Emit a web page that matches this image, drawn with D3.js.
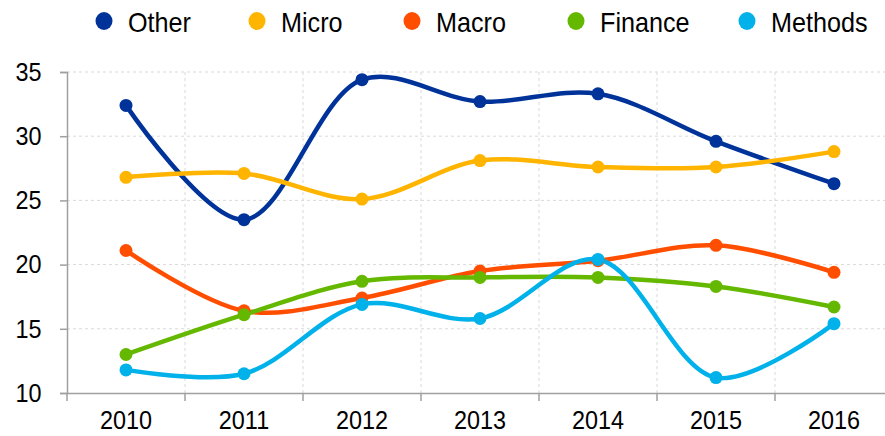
<!DOCTYPE html>
<html>
<head>
<meta charset="utf-8">
<script src="https://cdn.jsdelivr.net/npm/d3@7"></script>
<style>
  body { margin: 0; background: #fff; }
  svg { display: block; font-family: "Liberation Sans", Arial, sans-serif; }
  .narrow { transform-box: fill-box; transform-origin: center; transform: scaleX(0.9); }
</style>
</head>
<body>
<svg id="chart" width="885" height="436"></svg>
<script>
const years = ["2010", "2011", "2012", "2013", "2014", "2015", "2016"];
const seriesNames = ["Other", "Micro", "Macro", "Finance", "Methods"];
const other = [32.4, 23.5, 34.4, 32.7, 33.3, 29.6, 26.3];
const micro = [26.8, 27.1, 25.1, 28.1, 27.6, 27.6, 28.8];
const macro = [21.1, 16.4, 17.4, 19.5, 20.3, 21.5, 19.4];
const finance = [13.0, 16.1, 18.7, 19.0, 19.0, 18.3, 16.7];
const methods = [11.8, 11.5, 16.9, 15.8, 20.4, 11.2, 15.4];
const yTicks = [10, 15, 20, 25, 30, 35];
const colors = ["#003399", "#ffb400", "#ff4e00", "#65b800", "#00b1ea"];

const allSeries = [other, micro, macro, finance, methods];

let svg = d3.select("#chart");
let margin = { top: 72, bottom: 43, left: 67, right: -8 };
let width = 885 - margin.left - margin.right;
let height = 436 - margin.top - margin.bottom;

let g = svg.append("g").attr("transform", `translate(${margin.left},${margin.top})`);

let x = d3.scaleBand().domain(years).range([0, width]);
let y = d3.scaleLinear().domain([10, 35]).range([height, 0]);

// grid
g.append("g")
  .selectAll("line")
  .data(yTicks.slice(1))
  .enter()
  .append("line")
  .attr("x1", 0)
  .attr("x2", width)
  .attr("y1", (d) => y(d))
  .attr("y2", (d) => y(d))
  .attr("stroke", "#d9d9d9")
  .attr("stroke-dasharray", "3,3");

g.append("g")
  .selectAll("line")
  .data(years.slice(1))
  .enter()
  .append("line")
  .attr("x1", (d) => x(d))
  .attr("x2", (d) => x(d))
  .attr("y1", 0)
  .attr("y2", height)
  .attr("stroke", "#d9d9d9")
  .attr("stroke-dasharray", "3,3");

// axes
let yAxis = g.append("g").call(d3.axisLeft(y).tickValues(yTicks).tickSize(7).tickPadding(17));
let xAxis = g.append("g")
  .attr("transform", `translate(0,${height})`)
  .call(d3.axisBottom(x).tickSize(0).tickPadding(18));

xAxis.selectAll(".sep")
  .data(years)
  .enter()
  .append("line")
  .attr("x1", (d) => x(d))
  .attr("x2", (d) => x(d))
  .attr("y1", 0)
  .attr("y2", 8)
  .attr("stroke", "#a0a0a0")
  .attr("stroke-width", 1.5);

[yAxis, xAxis].forEach((a) => {
  a.select(".domain").attr("stroke", "#a0a0a0").attr("stroke-width", 1.5);
  a.selectAll(".tick line").attr("stroke", "#a0a0a0").attr("stroke-width", 1.5);
  a.selectAll("text")
    .attr("fill", "#000")
    .attr("class", "narrow")
    .style("font-size", "26px");
});

// lines
let line = d3.line()
  .x((d, i) => x(years[i]) + x.bandwidth() / 2)
  .y((d) => y(d))
  .curve(d3.curveCatmullRom.alpha(0.5));

allSeries.forEach((s, k) => {
  g.append("path")
    .datum(s)
    .attr("d", line)
    .attr("fill", "none")
    .attr("stroke", colors[k])
    .attr("stroke-width", 4.5);
});

allSeries.forEach((s, k) => {
  g.append("g")
    .selectAll("circle")
    .data(s)
    .enter()
    .append("circle")
    .attr("cx", (d, i) => x(years[i]) + x.bandwidth() / 2)
    .attr("cy", (d) => y(d))
    .attr("r", 6.5)
    .attr("fill", colors[k]);
});

// legend
const legendX = [104, 257, 412, 576, 747];
let legend = svg.append("g");
seriesNames.forEach((name, k) => {
  legend.append("ellipse")
    .attr("cx", legendX[k])
    .attr("cy", 21)
    .attr("rx", 8.5)
    .attr("ry", 9)
    .attr("fill", colors[k]);
  legend.append("text")
    .attr("x", legendX[k] + 24)
    .attr("y", 32)
    .style("font-size", "28px")
    .attr("fill", "#000")
    .attr("class", "legendText")
    .text(name);
});
// compress legend text horizontally around its left edge
legend.selectAll(".legendText").each(function () {
  let t = d3.select(this);
  let x0 = +t.attr("x");
  t.attr("transform", `translate(${x0},0) scale(0.9,1) translate(${-x0},0)`);
});
</script>
</body>
</html>
